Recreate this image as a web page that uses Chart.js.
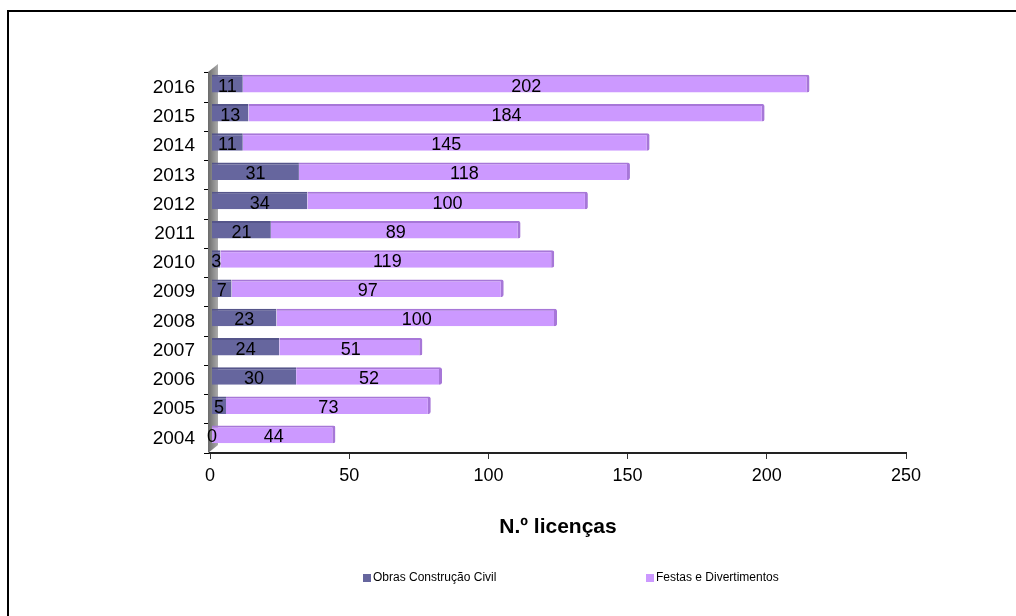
<!DOCTYPE html>
<html lang="pt">
<head>
<meta charset="utf-8">
<title>N.º licenças por ano</title>
<script src="https://cdn.jsdelivr.net/npm/chart.js@4.4.1/dist/chart.umd.min.js"></script>
<style>
  html, body { margin: 0; padding: 0; background: #fff; width: 1016px; height: 616px; overflow: hidden; }
  .frame { position: absolute; left: 7px; top: 10px; right: -4px; bottom: -4px;
           border-top: 2px solid #000; border-left: 2px solid #000; }
  #chart { position: absolute; left: 0; top: 0; }
</style>
</head>
<body>
<div class="frame"></div>
<canvas id="chart" width="1016" height="616"></canvas>
<script>
// Licenças emitidas por ano e por tipo
const years = ['2004', '2005', '2006', '2007', '2008', '2009', '2010', '2011', '2012', '2013', '2014', '2015', '2016'];
const obrasConstrucaoCivil = [0, 5, 30, 24, 23, 7, 3, 21, 34, 31, 11, 13, 11];
const festasDivertimentos = [44, 73, 52, 51, 100, 97, 119, 89, 100, 118, 145, 184, 202];
const seriesNames = ['Obras Construção Civil', 'Festas e Divertimentos'];
const seriesColors = ['#66669e', '#cc99ff'];
const seriesEdges = ['#55558a', '#a777d8'];
const axisTicks = [0, 50, 100, 150, 200, 250];
const axisTitle = 'N.º licenças';

const FONT = "'Liberation Sans', Arial, sans-serif";

// Back wall of the 3D plot, drawn behind the bars
const wallPlugin = {
  id: 'wall',
  beforeDatasetsDraw(chart) {
    const { ctx, chartArea: a } = chart;
    const x0 = a.left - 2, depth = 10, rise = 8;
    ctx.save();
    const g = ctx.createLinearGradient(x0, 0, x0 + depth, 0);
    g.addColorStop(0, '#6a6a6a');
    g.addColorStop(1, '#ababab');
    ctx.fillStyle = g;
    ctx.beginPath();
    ctx.moveTo(x0, a.bottom);
    ctx.lineTo(x0, a.top - 1);
    ctx.lineTo(x0 + depth, a.top - 1 - rise);
    ctx.lineTo(x0 + depth, a.bottom - rise);
    ctx.closePath();
    ctx.fill();
    ctx.restore();
    // bars sit slightly raised on the 3D floor
    ctx.save();
    ctx.translate(0, -4);
  },
  afterDatasetsDraw(chart) {
    chart.ctx.restore();
  }
};

// Value labels centred in each bar segment
const valueLabels = {
  id: 'valueLabels',
  afterDatasetsDraw(chart) {
    const { ctx } = chart;
    ctx.save();
    ctx.font = '18px ' + FONT;
    ctx.fillStyle = '#000';
    ctx.textAlign = 'center';
    ctx.textBaseline = 'middle';
    chart.data.datasets.forEach((ds, i) => {
      chart.getDatasetMeta(i).data.forEach((el, j) => {
        const cx = (el.base + el.x) / 2;
        ctx.fillText(String(ds.data[j]), cx, el.y - 1);
      });
    });
    ctx.restore();
  }
};

// Legend row under the axis title
const legendRow = {
  id: 'legendRow',
  afterDraw(chart) {
    const { ctx, width } = chart;
    const slots = [0.357, 0.6355];
    const y = 578;
    ctx.save();
    ctx.font = '12px ' + FONT;
    ctx.textBaseline = 'middle';
    ctx.textAlign = 'left';
    chart.data.datasets.forEach((ds, i) => {
      const x = Math.round(width * slots[i]);
      ctx.fillStyle = ds.backgroundColor;
      ctx.fillRect(x, y - 4, 8, 8);
      ctx.fillStyle = '#000';
      ctx.fillText(ds.label, x + 10, y);
    });
    ctx.restore();
  }
};

new Chart(document.getElementById('chart'), {
  type: 'bar',
  data: {
    labels: years,
    datasets: [
      {
        label: seriesNames[0],
        data: obrasConstrucaoCivil,
        backgroundColor: seriesColors[0],
        borderColor: seriesEdges[0],
        borderWidth: { top: 2, right: 0, bottom: 0, left: 0 },
        borderSkipped: false,
        xAxisID: 'xb'
      },
      {
        label: seriesNames[1],
        data: festasDivertimentos,
        backgroundColor: seriesColors[1],
        borderColor: seriesEdges[1],
        borderWidth: { top: 2, right: 3, bottom: 0, left: 0 },
        borderSkipped: false,
        borderRadius: { topRight: 2, bottomRight: 2 },
        xAxisID: 'xb'
      }
    ]
  },
  options: {
    indexAxis: 'y',
    responsive: false,
    devicePixelRatio: 1,
    animation: false,
    layout: { padding: { left: 0, right: 110, top: 73, bottom: 73 } },
    barPercentage: 0.6,
    categoryPercentage: 1,
    plugins: {
      legend: { display: false },
      tooltip: { enabled: false }
    },
    scales: {
      y: {
        reverse: true,
        stacked: true,
        afterFit(s) { s.width = 210; },
        grid: { drawOnChartArea: false, color: '#000', tickLength: 6, offset: true },
        border: { display: false },
        ticks: { color: '#000', padding: 9, font: { family: FONT, size: 19 } }
      },
      // front face of the 3D bars
      xb: {
        type: 'linear',
        display: false,
        stacked: true,
        min: -0.7,
        max: 247.4
      },
      x: {
        type: 'linear',
        position: 'bottom',
        min: axisTicks[0],
        max: axisTicks[axisTicks.length - 1],
        afterFit(s) { s.height = 90; },
        afterBuildTicks(s) { s.ticks = axisTicks.map(v => ({ value: v })); },
        grid: { drawOnChartArea: false, color: '#333', tickLength: 6 },
        border: { display: true, color: '#222', width: 2 },
        ticks: { color: '#000', padding: 6, font: { family: FONT, size: 18 } },
        title: {
          display: true,
          text: axisTitle,
          color: '#000',
          padding: { top: 0, bottom: 3 },
          font: { family: FONT, size: 21, weight: 'bold' }
        }
      }
    }
  },
  plugins: [wallPlugin, valueLabels, legendRow]
});
</script>
</body>
</html>
